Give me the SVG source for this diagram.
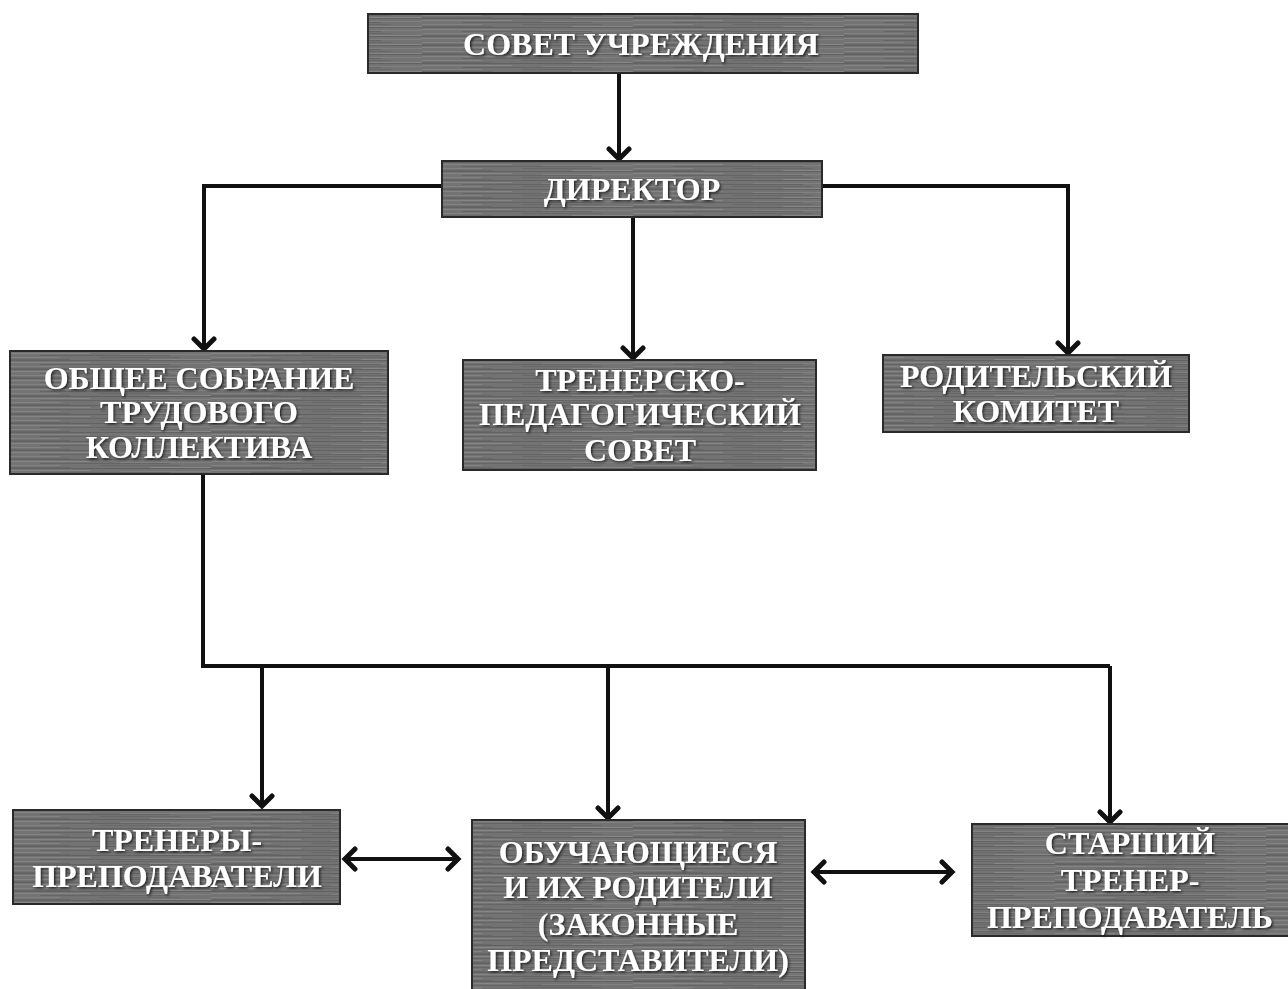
<svg xmlns="http://www.w3.org/2000/svg" width="1288" height="989" viewBox="0 0 1288 989">
<defs>
<pattern id="tex" patternUnits="userSpaceOnUse" width="211" height="9">
<rect width="211" height="9" fill="#737373"/>
<rect y="0" width="211" height="1" fill="#626262"/>
<rect x="0" y="2" width="90" height="1" fill="#858585"/>
<rect x="120" y="3" width="91" height="1" fill="#808080"/>
<rect x="40" y="4" width="130" height="1" fill="#656565"/>
<rect x="0" y="6" width="60" height="1" fill="#828282"/>
<rect x="100" y="6" width="80" height="1" fill="#686868"/>
<rect x="150" y="8" width="61" height="1" fill="#868686"/>
<rect x="0" y="8" width="70" height="1" fill="#676767"/>
</pattern>
<filter id="sh" x="-5%" y="-20%" width="110%" height="140%">
<feDropShadow dx="1.5" dy="1.5" stdDeviation="0.8" flood-color="#1a1a1a" flood-opacity="0.9"/>
</filter>
<marker id="ah" markerUnits="userSpaceOnUse" markerWidth="24" markerHeight="26" refX="14" refY="13" orient="auto-start-reverse" viewBox="0 0 24 26">
<path d="M4,3 L14,13 L4,23" fill="none" stroke="#111" stroke-width="5" stroke-linecap="round" stroke-linejoin="miter"/>
</marker>
</defs>
<style>
.box{fill:url(#tex);stroke:#2a2a2a;stroke-width:2}
.t{font-family:"Liberation Serif","Times New Roman",serif;font-weight:bold;font-size:32px;fill:#ffffff;text-anchor:middle;filter:url(#sh)}
.c{fill:none;stroke:#111;stroke-width:4}
</style>
<rect width="1288" height="989" fill="#ffffff"/>
<g id="connectors">
<path class="c" d="M619,73 V159" marker-end="url(#ah)"/>
<path class="c" d="M442,186 H204 V349" marker-end="url(#ah)"/>
<path class="c" d="M633,217 V358" marker-end="url(#ah)"/>
<path class="c" d="M822,186 H1068 V353" marker-end="url(#ah)"/>
<path class="c" d="M203,474 V666 H1110"/>
<path class="c" d="M262,666 V806" marker-end="url(#ah)"/>
<path class="c" d="M608,666 V818" marker-end="url(#ah)"/>
<path class="c" d="M1110,666 V822" marker-end="url(#ah)"/>
<path class="c" d="M345,859 H458" marker-start="url(#ah)" marker-end="url(#ah)"/>
<path class="c" d="M814,872 H952" marker-start="url(#ah)" marker-end="url(#ah)"/>
</g>
<g id="node-sovet">
<rect class="box" x="368" y="14" width="550" height="59"/>
<text class="t" x="641" y="55">СОВЕТ УЧРЕЖДЕНИЯ</text>
</g>
<g id="node-director">
<rect class="box" x="442" y="161" width="380" height="56"/>
<text class="t" x="632" y="200">ДИРЕКТОР</text>
</g>
<g id="node-obshchee">
<rect class="box" x="10" y="351" width="378" height="123"/>
<text class="t" x="199" y="389">ОБЩЕЕ СОБРАНИЕ</text>
<text class="t" x="199" y="423">ТРУДОВОГО</text>
<text class="t" x="199" y="458">КОЛЛЕКТИВА</text>
</g>
<g id="node-trenersko">
<rect class="box" x="463" y="360" width="353" height="110"/>
<text class="t" x="640" y="391">ТРЕНЕРСКО-</text>
<text class="t" x="640" y="425">ПЕДАГОГИЧЕСКИЙ</text>
<text class="t" x="640" y="461">СОВЕТ</text>
</g>
<g id="node-roditelsky">
<rect class="box" x="883" y="355" width="306" height="77"/>
<text class="t" x="1036" y="387">РОДИТЕЛЬСКИЙ</text>
<text class="t" x="1036" y="422">КОМИТЕТ</text>
</g>
<g id="node-trenery">
<rect class="box" x="13" y="810" width="327" height="94"/>
<text class="t" x="177" y="851">ТРЕНЕРЫ-</text>
<text class="t" x="177" y="887">ПРЕПОДАВАТЕЛИ</text>
</g>
<g id="node-obuchayushchiesya">
<rect class="box" x="472" y="820" width="333" height="175"/>
<text class="t" x="638" y="863">ОБУЧАЮЩИЕСЯ</text>
<text class="t" x="638" y="898">И ИХ РОДИТЕЛИ</text>
<text class="t" x="638" y="935">(ЗАКОННЫЕ</text>
<text class="t" x="638" y="971">ПРЕДСТАВИТЕЛИ)</text>
</g>
<g id="node-starshy">
<rect class="box" x="972" y="824" width="320" height="112"/>
<text class="t" x="1130" y="854">СТАРШИЙ</text>
<text class="t" x="1130" y="891">ТРЕНЕР-</text>
<text class="t" x="1130" y="928">ПРЕПОДАВАТЕЛЬ</text>
</g>
</svg>
